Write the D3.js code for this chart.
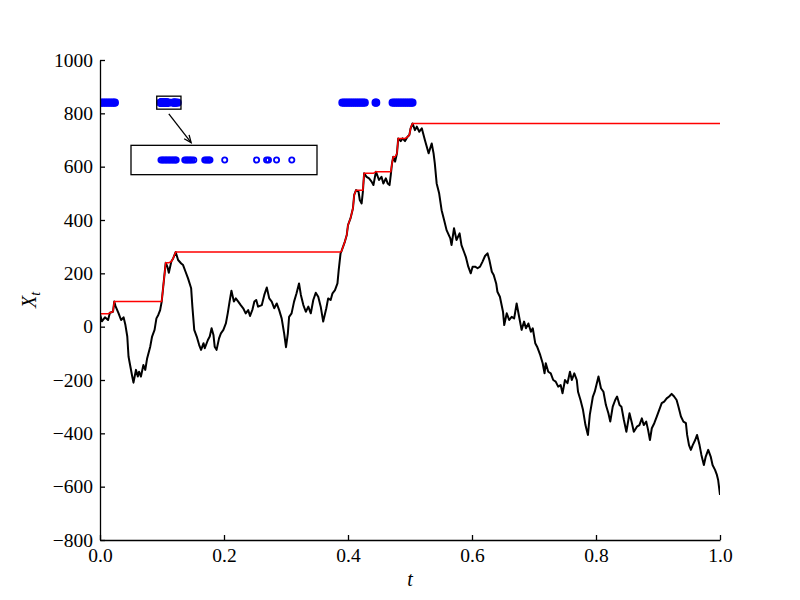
<!DOCTYPE html>
<html>
  <head>
    <meta charset="utf-8">
    <title>Running maximum of a random walk</title>
    <script src="https://d3js.org/d3.v7.min.js"></script>
    <style>
      body { margin: 0; background: #fff; }
      svg text { font-family: "Liberation Serif", "DejaVu Serif", serif; fill: #000; }
    </style>
  </head>
  <body>
    <div id="chart"></div>
    <script>
      // path X_t (t, value)
      var pathT = [0, 0.003, 0.008, 0.013, 0.016, 0.021, 0.023, 0.025, 0.030, 0.034, 0.038, 0.041, 0.044, 0.046, 0.048, 0.052, 0.054, 0.058, 0.061, 0.063, 0.066, 0.070, 0.073, 0.076, 0.081, 0.084, 0.088, 0.091, 0.094, 0.097, 0.0995, 0.102, 0.106, 0.109, 0.111, 0.115, 0.118, 0.122, 0.126, 0.131, 0.134, 0.138, 0.142, 0.147, 0.149, 0.152, 0.156, 0.160, 0.163, 0.167, 0.169, 0.174, 0.177, 0.180, 0.183, 0.185, 0.188, 0.192, 0.195, 0.199, 0.203, 0.206, 0.209, 0.212, 0.216, 0.219, 0.223, 0.227, 0.231, 0.235, 0.239, 0.242, 0.246, 0.249, 0.252, 0.255, 0.261, 0.265, 0.269, 0.273, 0.277, 0.281, 0.285, 0.289, 0.293, 0.297, 0.300, 0.303, 0.305, 0.309, 0.313, 0.317, 0.321, 0.324, 0.328, 0.332, 0.336, 0.340, 0.344, 0.348, 0.352, 0.356, 0.360, 0.365, 0.368, 0.372, 0.375, 0.379, 0.383, 0.385, 0.388, 0.3895, 0.395, 0.398, 0.400, 0.404, 0.408, 0.410, 0.413, 0.417, 0.419, 0.422, 0.424, 0.426, 0.430, 0.434, 0.438, 0.441, 0.445, 0.447, 0.450, 0.454, 0.457, 0.461, 0.464, 0.467, 0.469, 0.471, 0.473, 0.476, 0.479, 0.481, 0.485, 0.488, 0.492, 0.496, 0.499, 0.501, 0.504, 0.508, 0.511, 0.515, 0.519, 0.524, 0.530, 0.535, 0.538, 0.540, 0.543, 0.547, 0.551, 0.555, 0.559, 0.565, 0.567, 0.571, 0.575, 0.580, 0.583, 0.587, 0.590, 0.594, 0.598, 0.601, 0.605, 0.609, 0.613, 0.617, 0.621, 0.625, 0.628, 0.632, 0.635, 0.639, 0.641, 0.645, 0.650, 0.652, 0.656, 0.660, 0.664, 0.668, 0.672, 0.676, 0.680, 0.684, 0.687, 0.691, 0.695, 0.698, 0.702, 0.705, 0.710, 0.714, 0.717, 0.719, 0.723, 0.727, 0.731, 0.735, 0.739, 0.743, 0.746, 0.750, 0.754, 0.758, 0.761, 0.765, 0.769, 0.771, 0.775, 0.779, 0.783, 0.787, 0.790, 0.795, 0.798, 0.804, 0.808, 0.812, 0.816, 0.820, 0.823, 0.827, 0.831, 0.834, 0.838, 0.841, 0.845, 0.849, 0.854, 0.858, 0.861, 0.866, 0.870, 0.874, 0.877, 0.881, 0.884, 0.887, 0.890, 0.894, 0.898, 0.902, 0.906, 0.910, 0.914, 0.918, 0.922, 0.926, 0.930, 0.933, 0.937, 0.941, 0.945, 0.947, 0.950, 0.953, 0.956, 0.960, 0.963, 0.967, 0.970, 0.974, 0.977, 0.981, 0.985, 0.988, 0.992, 0.995, 0.997, 1.000];
      var pathX = [48, 20, 35, 25, 52, 56, 94, 77, 50, 25, 35, 6, -37, -112, -137, -187, -210, -162, -187, -169, -187, -144, -162, -119, -75, -37, -12, 31, 44, 62, 94, 150, 240, 222, 202, 244, 256, 280, 250, 237, 231, 206, 181, 144, 75, -12, -37, -69, -87, -62, -81, -50, -37, -6, -31, -75, -87, -44, -25, -12, 12, 50, 94, 135, 94, 106, 94, 81, 69, 50, 62, 40, 65, 94, 100, 75, 81, 119, 147, 106, 94, 69, 87, 62, 31, -25, -77, -25, 37, 50, 94, 125, 162, 119, 81, 56, 75, 50, 100, 127, 112, 75, 19, 69, 106, 100, 125, 137, 162, 212, 275, 283, 319, 344, 381, 406, 444, 494, 512, 506, 475, 462, 506, 575, 562, 556, 544, 531, 581, 569, 550, 562, 537, 556, 537, 531, 569, 612, 637, 619, 650, 706, 696, 706, 696, 712, 719, 744, 762, 737, 750, 731, 744, 700, 650, 687, 650, 612, 537, 500, 437, 400, 362, 331, 306, 369, 325, 350, 306, 281, 262, 225, 200, 225, 225, 219, 225, 244, 265, 275, 250, 206, 194, 162, 131, 112, 56, 6, 50, 25, 37, 31, 87, 37, -12, 19, -6, 12, -19, -6, -62, -75, -106, -137, -175, -137, -169, -175, -200, -206, -225, -219, -250, -200, -212, -169, -200, -175, -200, -244, -275, -312, -369, -406, -331, -262, -244, -187, -231, -244, -294, -325, -356, -300, -275, -262, -294, -300, -350, -394, -325, -362, -394, -375, -369, -344, -369, -356, -387, -425, -381, -362, -337, -312, -287, -281, -269, -262, -252, -262, -275, -300, -337, -356, -362, -406, -444, -462, -444, -425, -406, -444, -481, -519, -487, -462, -487, -519, -537, -556, -575, -631];

      // times at which a new maximum is reached (blue circles)
      var recordTimes = [0.001, 0.004, 0.007, 0.010, 0.013, 0.016, 0.019, 0.022, 0.024,
        0.0978, 0.0981, 0.0984, 0.0987, 0.0990, 0.0993, 0.0996, 0.0999, 0.1002, 0.1005, 0.1008, 0.1010,
        0.1028, 0.1031, 0.1034, 0.1037, 0.1040, 0.1043, 0.1047,
        0.1070, 0.1073, 0.1076, 0.1079, 0.1081,
        0.1112, 0.1179, 0.1200, 0.1204, 0.1221, 0.1253,
        0.391, 0.394, 0.397, 0.400, 0.403, 0.406, 0.409, 0.412, 0.415, 0.418, 0.421, 0.424, 0.427,
        0.4445, 0.4455,
        0.472, 0.475, 0.478, 0.481, 0.484, 0.487, 0.490, 0.493, 0.496, 0.499, 0.502, 0.504];
      var recordLevel = 840;

      // zoomed window shown in the inset, and where the inset sits
      var zoomWindow = [0.0915, 0.1306];
      var insetT = [0.05, 0.35];
      var insetX = [570, 680];
      var insetLevel = 625;
      var arrowT = [0.111, 0.147];
      var arrowX = [798, 690];

      var xTicks = [0, 0.2, 0.4, 0.6, 0.8, 1.0];
      var yTicks = [-800, -600, -400, -200, 0, 200, 400, 600, 800, 1000];

      var width = 800, height = 600;
      var margin = { top: 60, right: 80, bottom: 60, left: 100 };

      var svg = d3.select("#chart")
        .append("svg")
        .attr("width", width)
        .attr("height", height);

      var x = d3.scaleLinear().domain([0, 1]).range([margin.left, width - margin.right]);
      var y = d3.scaleLinear().domain([-800, 1000]).range([height - margin.bottom, margin.top]);

      svg.append("clipPath")
        .attr("id", "plotClip")
        .append("rect")
        .attr("x", x(0))
        .attr("y", y(1000))
        .attr("width", x(1) - x(0))
        .attr("height", y(-800) - y(1000));

      var plot = svg.append("g").attr("clip-path", "url(#plotClip)");

      // running maximum
      var data = pathT.map(function(t, i) { return { t: t, v: pathX[i] }; });
      var runMax = [];
      var m = -Infinity;
      data.forEach(function(d) {
        m = Math.max(m, d.v);
        runMax.push({ t: d.t, v: m });
      });

      var line = d3.line()
        .x(function(d) { return x(d.t); })
        .y(function(d) { return y(d.v); });

      plot.append("path")
        .datum(data)
        .attr("d", line)
        .attr("fill", "none")
        .attr("stroke", "#000")
        .attr("stroke-width", 2)
        .attr("stroke-linejoin", "round");

      plot.append("path")
        .datum(runMax)
        .attr("d", line)
        .attr("fill", "none")
        .attr("stroke", "#ff0000")
        .attr("stroke-width", 1.5);

      plot.selectAll(".rec")
        .data(recordTimes)
        .enter()
        .append("circle")
        .attr("class", "rec")
        .attr("cx", function(d) { return x(d); })
        .attr("cy", y(recordLevel))
        .attr("r", 3.4)
        .attr("fill", "#0000ff")
        .attr("stroke", "#0000ff")
        .attr("stroke-width", 1.4);

      // box around the zoomed window
      svg.append("rect")
        .attr("x", x(zoomWindow[0]))
        .attr("y", y(recordLevel) - 6.5)
        .attr("width", x(zoomWindow[1]) - x(zoomWindow[0]))
        .attr("height", 13)
        .attr("fill", "none")
        .attr("stroke", "#000")
        .attr("stroke-width", 1.3);

      // arrow
      var ax1 = x(arrowT[0]), ay1 = y(arrowX[0]), ax2 = x(arrowT[1]), ay2 = y(arrowX[1]);
      var ang = Math.atan2(ay2 - ay1, ax2 - ax1);
      svg.append("line")
        .attr("x1", ax1).attr("y1", ay1).attr("x2", ax2).attr("y2", ay2)
        .attr("stroke", "#000").attr("stroke-width", 1.3);
      svg.append("path")
        .attr("d", d3.line()([
          [ax2 - 8 * Math.cos(ang - 0.4), ay2 - 8 * Math.sin(ang - 0.4)],
          [ax2, ay2],
          [ax2 - 8 * Math.cos(ang + 0.4), ay2 - 8 * Math.sin(ang + 0.4)]
        ]))
        .attr("fill", "none").attr("stroke", "#000").attr("stroke-width", 1.3);

      // inset
      var ix = d3.scaleLinear().domain(zoomWindow).range([x(insetT[0]), x(insetT[1])]);
      svg.append("rect")
        .attr("x", x(insetT[0]))
        .attr("y", y(insetX[1]))
        .attr("width", x(insetT[1]) - x(insetT[0]))
        .attr("height", y(insetX[0]) - y(insetX[1]))
        .attr("fill", "#fff")
        .attr("stroke", "#000")
        .attr("stroke-width", 1.3);
      svg.selectAll(".inrec")
        .data(recordTimes.filter(function(d) { return d >= zoomWindow[0] && d <= zoomWindow[1]; }))
        .enter()
        .append("circle")
        .attr("class", "inrec")
        .attr("cx", function(d) { return ix(d); })
        .attr("cy", y(insetLevel))
        .attr("r", 2.6)
        .attr("fill", "none")
        .attr("stroke", "#0000ff")
        .attr("stroke-width", 1.8);

      // axes
      var fmtY = function(d) { return d < 0 ? "\u2212" + Math.abs(d) : String(d); };
      var xAxis = svg.append("g")
        .attr("transform", "translate(0," + y(-800) + ")")
        .call(d3.axisBottom(x).tickValues(xTicks).tickFormat(d3.format(".1f")).tickSizeInner(-5).tickSizeOuter(0).tickPadding(8));
      var yAxis = svg.append("g")
        .attr("transform", "translate(" + x(0) + ",0)")
        .call(d3.axisLeft(y).tickValues(yTicks).tickFormat(fmtY).tickSizeInner(-5).tickSizeOuter(0).tickPadding(7));
      [xAxis, yAxis].forEach(function(g) {
        g.selectAll("path, line").attr("stroke", "#000").attr("stroke-width", 1.3);
        g.selectAll("text").attr("font-size", 19.5).attr("font-family", "Liberation Serif, serif");
      });

      svg.append("text")
        .attr("x", (x(0) + x(1)) / 2)
        .attr("y", 586)
        .attr("text-anchor", "middle")
        .attr("font-size", 20)
        .attr("font-style", "italic")
        .text("t");

      var yl = svg.append("text")
        .attr("transform", "translate(36," + (y(-800) + y(1000)) / 2 + ") rotate(-90)")
        .attr("text-anchor", "middle")
        .attr("font-size", 20)
        .attr("font-style", "italic");
      yl.append("tspan").text("X");
      yl.append("tspan").attr("font-size", 14).attr("dy", 4).text("t");
    </script>
  </body>
</html>
